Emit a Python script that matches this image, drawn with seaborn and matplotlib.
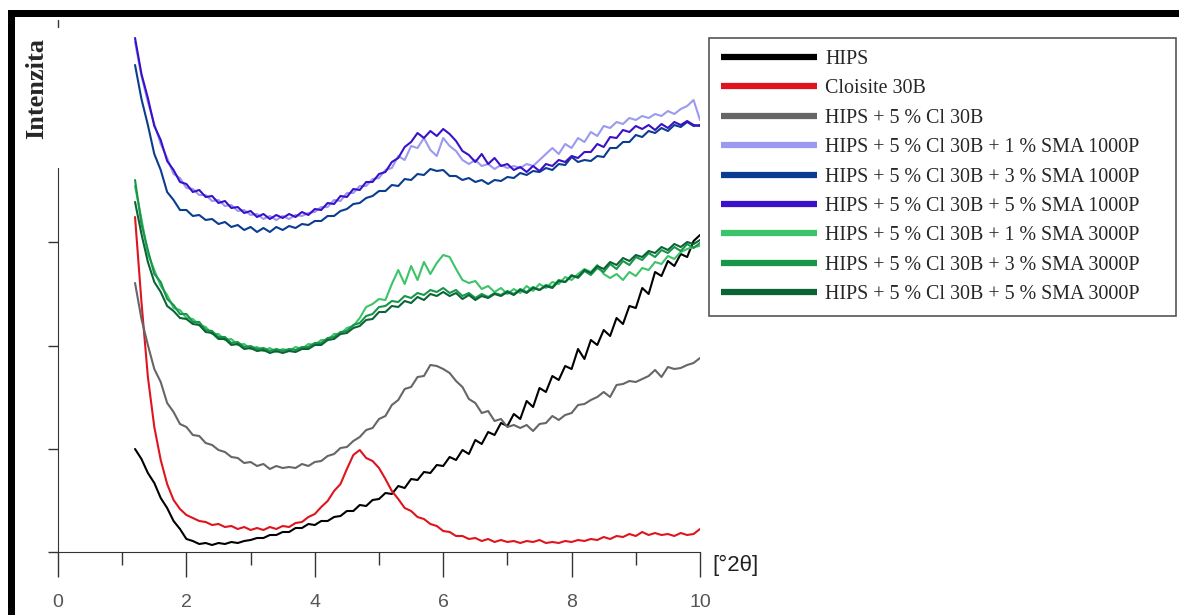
import numpy as np
import pandas as pd
import seaborn as sns
import matplotlib.pyplot as plt
from matplotlib.patches import Rectangle

# 2-theta grid (degrees), 1.2 .. 10.0 step 0.1
two_theta = np.round(np.arange(12, 101) / 10.0, 1)

# intensities (arbitrary units)
hips = [103, 93, 79, 69, 54, 44, 31, 23, 13,
        11, 8, 9, 7, 9, 8, 10, 9, 11, 12,
        14, 14, 17, 17, 20, 20, 24, 24, 28, 27,
        31, 31, 35, 36, 41, 41, 47, 46, 52, 53,
        59, 58, 66, 64, 73, 72, 80, 79, 87, 86,
        95, 92, 102, 98, 112, 108, 120, 117, 129, 126,
        138, 133, 151, 145, 164, 160, 176, 172, 186, 183,
        203, 193, 212, 207, 222, 216, 234, 228, 246, 244,
        264, 258, 280, 276, 291, 286, 298, 295, 311, 317]

cloisite = [335, 250, 175, 125, 92, 68, 52, 43, 37,
            34, 31, 30, 27, 28, 25, 26, 23, 25, 22,
            24, 22, 25, 23, 26, 25, 29, 30, 35, 38,
            45, 51, 61, 68, 83, 97, 102, 94, 91, 84,
            73, 61, 53, 44, 41, 35, 33, 28, 26, 21,
            20, 16, 16, 13, 14, 11, 13, 10, 12, 10,
            11, 9, 11, 10, 12, 9, 10, 9, 11, 10,
            12, 11, 13, 12, 15, 13, 16, 15, 18, 16,
            20, 17, 19, 17, 18, 16, 19, 17, 18, 23]

hips_cl = [269, 233, 207, 183, 170, 149, 140, 128, 125,
           117, 116, 109, 107, 102, 100, 95, 94, 89, 90,
           86, 88, 83, 86, 84, 85, 84, 88, 86, 90,
           91, 96, 98, 104, 105, 111, 115, 122, 124, 133,
           136, 147, 152, 163, 165, 175, 176, 187, 186, 183,
           179, 171, 165, 153, 149, 139, 141, 131, 133, 125,
           127, 124, 127, 121, 128, 129, 136, 132, 137, 139,
           147, 148, 152, 155, 160, 155, 167, 168, 171, 170,
           173, 176, 182, 175, 185, 183, 184, 187, 189, 194]

sma1000_1 = [510, 476, 450, 428, 408, 394, 378, 374, 364,
             363, 357, 357, 351, 352, 346, 347, 341, 342, 337,
             338, 333, 336, 332, 336, 333, 337, 336, 339, 340,
             345, 345, 352, 351, 359, 359, 366, 366, 373, 374,
             382, 384, 396, 392, 406, 404, 414, 402, 396, 414,
             406, 401, 392, 388, 392, 386, 388, 383, 387, 384,
             386, 384, 388, 386, 392, 398, 404, 398, 408, 404,
             414, 410, 420, 416, 426, 424, 430, 428, 434, 432,
             436, 434, 438, 436, 441, 438, 443, 446, 452, 432]

sma1000_3 = [487, 453, 427, 398, 382, 360, 352, 342, 342,
             336, 337, 332, 333, 328, 330, 325, 327, 322, 325,
             320, 324, 320, 325, 322, 326, 324, 328, 327, 331,
             331, 336, 336, 341, 343, 348, 349, 354, 356, 361,
             361, 367, 366, 373, 372, 378, 377, 383, 381, 382,
             376, 376, 372, 374, 370, 372, 368, 372, 371, 375,
             374, 379, 377, 381, 380, 384, 382, 388, 387, 395,
             390, 392, 391, 396, 395, 404, 404, 410, 410, 417,
             415, 421, 419, 424, 421, 427, 425, 430, 426, 427]

sma1000_5 = [514, 478, 454, 426, 412, 391, 382, 370, 368,
             360, 362, 355, 356, 349, 351, 344, 345, 339, 341,
             335, 338, 333, 337, 334, 338, 335, 340, 337, 343,
             342, 349, 348, 356, 355, 363, 362, 370, 370, 378,
             380, 390, 394, 405, 410, 419, 414, 421, 416, 423,
             418, 411, 401, 397, 390, 398, 388, 394, 386, 388,
             382, 385, 380, 386, 381, 388, 386, 392, 390, 396,
             394, 400, 400, 408, 405, 415, 414, 422, 420, 426,
             423, 427, 422, 428, 424, 430, 427, 431, 427, 426]

sma3000_1 = [366, 333, 298, 282, 266, 257, 244, 242, 234,
             233, 227, 225, 218, 218, 212, 213, 207, 208, 203,
             205, 201, 204, 200, 203, 201, 205, 203, 208, 207,
             212, 212, 218, 218, 224, 226, 234, 245, 248, 253,
             252, 268, 282, 268, 286, 272, 290, 278, 289, 297,
             295, 283, 272, 269, 271, 263, 266, 260, 264, 258,
             263, 259, 266, 261, 268, 264, 270, 268, 275, 272,
             278, 283, 280, 287, 278, 274, 278, 272, 280, 276,
             284, 282, 290, 288, 296, 293, 300, 303, 305, 306]

sma3000_3 = [372, 328, 302, 278, 270, 253, 247, 238, 238,
             230, 230, 222, 221, 215, 215, 209, 210, 205, 206,
             203, 204, 201, 203, 201, 203, 202, 205, 205, 209,
             209, 214, 215, 220, 221, 227, 229, 236, 238, 245,
             246, 251, 250, 256, 254, 259, 257, 262, 260, 264,
             259, 262, 256, 259, 254, 258, 255, 259, 257, 261,
             258, 263, 260, 265, 262, 267, 265, 272, 270, 277,
             274, 281, 277, 284, 280, 288, 283, 291, 287, 295,
             292, 299, 295, 302, 299, 305, 301, 308, 304, 309]

sma3000_5 = [350, 318, 290, 270, 260, 246, 241, 234, 233,
             228, 227, 220, 219, 213, 213, 207, 208, 203, 204,
             201, 202, 199, 201, 199, 201, 200, 203, 203, 207,
             207, 212, 213, 218, 219, 224, 226, 232, 233, 240,
             240, 246, 245, 251, 249, 255, 252, 258, 256, 260,
             256, 259, 253, 257, 252, 256, 254, 258, 256, 260,
             257, 262, 259, 264, 262, 266, 264, 271, 270, 276,
             275, 282, 279, 286, 283, 290, 287, 294, 291, 297,
             295, 301, 299, 305, 302, 308, 305, 310, 308, 312]

labels = ["HIPS", "Cloisite 30B", "HIPS + 5 % Cl 30B",
          "HIPS + 5 % Cl 30B + 1 % SMA 1000P",
          "HIPS + 5 % Cl 30B + 3 % SMA 1000P",
          "HIPS + 5 % Cl 30B + 5 % SMA 1000P",
          "HIPS + 5 % Cl 30B + 1 % SMA 3000P",
          "HIPS + 5 % Cl 30B + 3 % SMA 3000P",
          "HIPS + 5 % Cl 30B + 5 % SMA 3000P"]
series = [hips, cloisite, hips_cl, sma1000_1, sma1000_3, sma1000_5,
          sma3000_1, sma3000_3, sma3000_5]
colors = ["#000000", "#e0141e", "#666666", "#9a9af0", "#0a3d8f",
          "#3a10c8", "#3cc46a", "#17964a", "#0b6436"]

df = pd.concat([pd.DataFrame({"x": two_theta, "I": s, "sample": lab})
                for lab, s in zip(labels, series)], ignore_index=True)

sns.set_style("ticks")
plt.rcParams["font.family"] = ["Liberation Sans", "DejaVu Sans"]

fig = plt.figure(figsize=(11.79, 6.15), dpi=100)
ax = fig.add_axes([58 / 1179, 1 - 552 / 615, 642 / 1179, 532 / 615])

sns.lineplot(data=df, x="x", y="I", hue="sample", hue_order=labels,
             palette=dict(zip(labels, colors)), estimator=None, sort=False,
             linewidth=1.5, ax=ax)

ax.set_xlim(0, 10)
ax.set_ylim(0, 532)
ax.set_xticks([0, 2, 4, 6, 8, 10])
ax.set_xticks([1, 3, 5, 7, 9], minor=True)
ax.set_yticks([0, 103, 206, 310])
ax.set_yticklabels([])
ax.tick_params(axis="x", which="major", length=18, width=1, color="#333333",
               labelsize=14, labelcolor="#555555", pad=12)
ax.tick_params(axis="x", which="minor", length=9.5, width=1, color="#333333")
ax.tick_params(axis="y", length=7, width=1, color="#333333")
for side in ["top", "right"]:
    ax.spines[side].set_visible(False)
ax.spines["bottom"].set_color("#333333")
ax.spines["left"].set_color("#333333")
ax.spines["left"].set_bounds(0, 384)
ax.axvline(0, ymin=0.987, ymax=1.0, color="#333333", lw=1, clip_on=False)

ax.set_xlabel("")
ax.set_ylabel("Intenzita", family="Liberation Serif", fontweight="bold",
              fontsize=19)
ax.yaxis.set_label_coords(-0.016, 0.872)

fig.text(712 / 1179, 1 - 565 / 615, "[°2θ]", fontsize=16, color="#222222",
         ha="left", va="center")

handles, labs = ax.get_legend_handles_labels()
leg = ax.legend(handles, labs, loc="upper left", mode="expand",
                bbox_to_anchor=(709 / 1179, 1 - 312 / 615,
                                467 / 1179, 274 / 615),
                bbox_transform=fig.transFigure, frameon=True, fancybox=False,
                edgecolor="#555555", framealpha=1,
                prop={"family": "Liberation Serif", "size": 14.4},
                handlelength=4.8, handletextpad=0.4, labelspacing=0.52,
                borderpad=0.6, borderaxespad=0)
leg.get_frame().set_linewidth(1.2)
for ln in leg.get_lines():
    ln.set_linewidth(4.5)
    ln.set_solid_capstyle("butt")

# thick frame on top and left of the picture
fig.add_artist(Rectangle((8 / 1179, 0), 7 / 1179, 1 - 10 / 615,
                         transform=fig.transFigure, color="black", lw=0))
fig.add_artist(Rectangle((8 / 1179, 1 - 17 / 615), 1, 7 / 615,
                         transform=fig.transFigure, color="black", lw=0))

fig.savefig("out.png", dpi=100)
